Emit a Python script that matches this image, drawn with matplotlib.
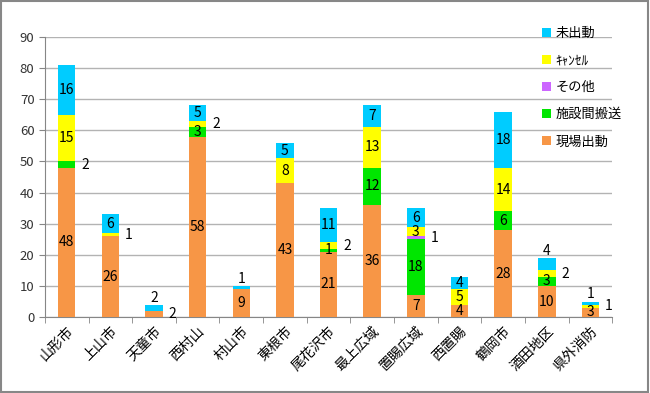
import matplotlib
matplotlib.use("Agg")
import matplotlib.pyplot as plt
from matplotlib.patches import Rectangle
import numpy as np

plt.rcParams['font.family'] = ['Noto Sans CJK JP', 'DejaVu Sans']

# data
areas = ['山形市', '上山市', '天童市', '西村山', '村山市', '東根市', '尾花沢市',
         '最上広域', '置賜広域', '西置賜', '鶴岡市', '酒田地区', '県外消防']
genba = [48, 26, 2, 58, 9, 43, 21, 36, 7, 4, 28, 10, 3]
shisetsu = [2, 0, 0, 3, 0, 0, 1, 12, 18, 0, 6, 3, 0]
sonota = [0, 0, 0, 0, 0, 0, 0, 0, 1, 0, 0, 0, 0]
cancel = [15, 1, 0, 2, 0, 8, 2, 13, 3, 5, 14, 2, 1]
mishutsu = [16, 6, 2, 5, 1, 5, 11, 7, 6, 4, 18, 4, 1]

series = [('現場出動', genba, '#F79646'),
          ('施設間搬送', shisetsu, '#00E600'),
          ('その他', sonota, '#CC66FF'),
          ('ｷｬﾝｾﾙ', cancel, '#FFFF00'),
          ('未出動', mishutsu, '#00CCFF')]

# labels moved outside the bar: (series name, area index) -> where
moved = {('現場出動', 2): 'right', ('未出動', 2): 'top',
         ('施設間搬送', 0): 'right', ('ｷｬﾝｾﾙ', 1): 'right',
         ('ｷｬﾝｾﾙ', 3): 'right', ('未出動', 4): 'top',
         ('ｷｬﾝｾﾙ', 6): 'right', ('その他', 8): 'right',
         ('ｷｬﾝｾﾙ', 11): 'right', ('未出動', 11): 'top',
         ('ｷｬﾝｾﾙ', 12): 'right', ('未出動', 12): 'top'}

fig = plt.figure(figsize=(6.5, 3.93), dpi=100)
ax = fig.add_axes([0.069, 0.193, 0.873, 0.713])

x = np.arange(len(areas))
bottom = np.zeros(len(areas))
handles = []
for name, vals, col in series:
    vals = np.array(vals, dtype=float)
    b = ax.bar(x, vals, 0.4, bottom=bottom, color=col, label=name, zorder=3)
    handles.append(b)
    for i, v in enumerate(vals):
        if v == 0:
            continue
        where = moved.get((name, i))
        cy = bottom[i] + v / 2
        if where == 'right':
            ax.text(x[i] + 0.42, cy, f'{int(v)}', ha='center', va='center', fontsize=10, zorder=4)
        elif where == 'top':
            ax.text(x[i], bottom[i] + v + 2.3, f'{int(v)}', ha='center', va='center', fontsize=10, zorder=4)
        else:
            ax.text(x[i], cy, f'{int(v)}', ha='center', va='center', fontsize=10, zorder=4)
    bottom += vals

ax.set_ylim(0, 90)
ax.set_xlim(-0.5, len(areas) - 0.5)
ax.set_yticks(range(0, 91, 10))
ax.yaxis.grid(True, color='#B3B3B3', lw=1, zorder=0)
ax.set_xticks(x)
ax.set_xticklabels(areas, rotation=45, ha='right', rotation_mode='anchor', fontsize=10)
ax.set_xticks(np.arange(-0.5, len(areas), 1), minor=True)
ax.tick_params(axis='x', which='major', length=0, pad=5)
ax.tick_params(axis='x', which='minor', length=4, color='#868686')
ax.tick_params(axis='y', length=4, color='#868686', labelsize=9.5, labelcolor='#333333')
for s in ['top', 'right']:
    ax.spines[s].set_visible(False)
for s in ['left', 'bottom']:
    ax.spines[s].set_color('#868686')

ax.legend(handles[::-1], [s[0] for s in series[::-1]], loc='upper left',
          bbox_to_anchor=(0.826, 0.945), bbox_transform=fig.transFigure,
          frameon=False, fontsize=9.5, handlelength=0.7, handleheight=0.7,
          handletextpad=0.3, labelspacing=1.07, borderaxespad=0)

fig.patches.append(Rectangle((0.002, 0.003), 0.995, 0.994, transform=fig.transFigure,
                             fill=False, edgecolor='#878787', lw=1.5))

fig.savefig('out.png', dpi=100)
